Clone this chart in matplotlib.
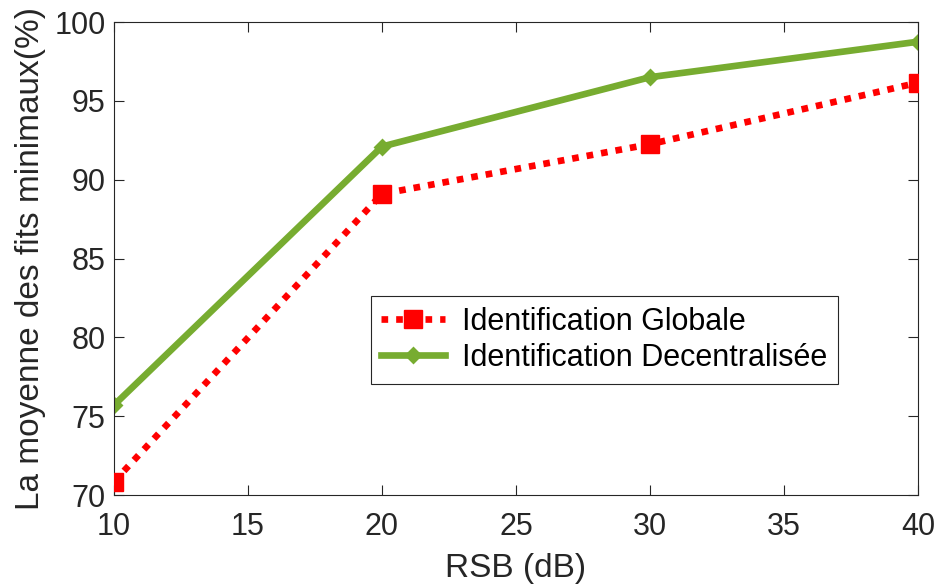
import matplotlib
matplotlib.use('Agg')
import matplotlib.pyplot as plt

plt.rcParams['font.family'] = ['Liberation Sans', 'DejaVu Sans']

rsb = [10, 20, 30, 40]
globale = [70.85, 89.1, 92.25, 96.15]
decentralisee = [75.7, 92.1, 96.5, 98.75]

fig = plt.figure(figsize=(9.35, 5.87), dpi=100)
ax = fig.add_axes([0.1219, 0.1567, 0.8599, 0.8058])

ax.plot(rsb, globale, color='#FF0000', linewidth=4.8, linestyle=(0, (1, 1.2)),
        dash_capstyle='butt', marker='s', markersize=13.5, markeredgewidth=1,
        label='Identification Globale', zorder=3)
ax.plot(rsb, decentralisee, color='#77AC30', linewidth=4.8, marker='D',
        markersize=7, markeredgewidth=2, label='Identification Decentralisée',
        zorder=2)

ax.set_xlim(10, 40)
ax.set_ylim(70, 100)
ax.set_xticks([10, 15, 20, 25, 30, 35, 40])
ax.set_yticks([70, 75, 80, 85, 90, 95, 100])
ax.tick_params(direction='in', top=True, right=True, labelsize=22, length=7,
               width=0.8, color='#262626', labelcolor='#262626')
ax.tick_params(axis='x', pad=12)
ax.tick_params(axis='y', pad=6)
for s in ax.spines.values():
    s.set_color('#262626')
    s.set_linewidth(0.8)

ax.set_xlabel('RSB (dB)', fontsize=24, color='#262626', labelpad=8)
ax.set_ylabel('La moyenne des fits minimaux(%)', fontsize=24, color='#262626',
              labelpad=6)

leg = ax.legend(loc='center', bbox_to_anchor=(0.61, 0.328), fontsize=22,
                fancybox=False, framealpha=1, edgecolor='#262626',
                handlelength=2.1, handletextpad=0.55, borderpad=0.35,
                labelspacing=0.2, borderaxespad=0)
leg.get_frame().set_linewidth(0.8)

fig.savefig('out.png', dpi=100)
